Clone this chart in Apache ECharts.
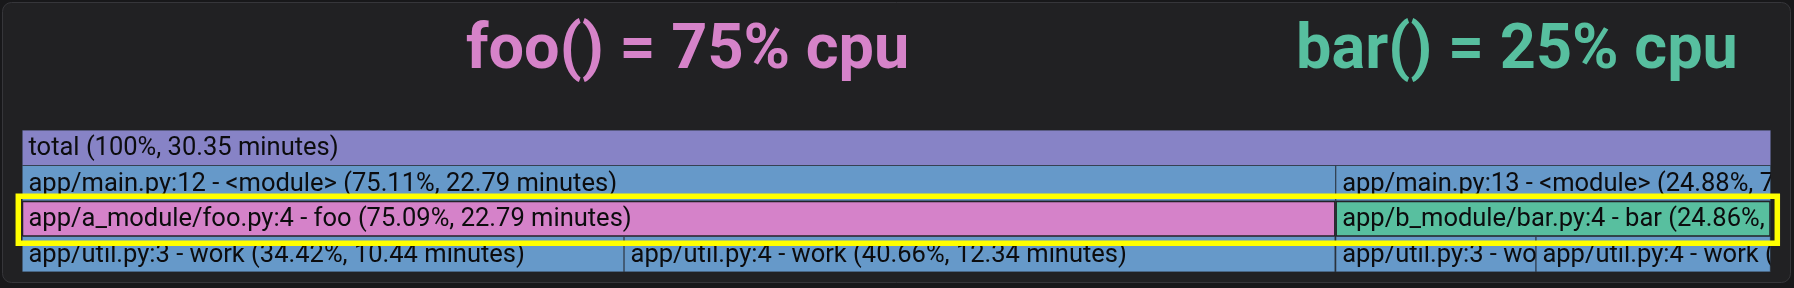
<!DOCTYPE html>
<html>
<head>
<meta charset="utf-8">
<script src="https://cdn.jsdelivr.net/npm/echarts@6/dist/echarts.min.js"></script>
<style>
  html, body { margin: 0; padding: 0; background: #18181a; }
  #chart { width: 1794px; height: 288px; }
</style>
</head>
<body>
<div id="chart"></div>
<script>
// ---- data ----
const frameNames = [
  'total (100%, 30.35 minutes)',
  'app/main.py:12 - <module> (75.11%, 22.79 minutes)',
  'app/main.py:13 - <module> (24.88%, 7.55 minutes)',
  'app/a_module/foo.py:4 - foo (75.09%, 22.79 minutes)',
  'app/b_module/bar.py:4 - bar (24.86%, 7.55 minutes)',
  'app/util.py:3 - work (34.42%, 10.44 minutes)',
  'app/util.py:4 - work (40.66%, 12.34 minutes)',
  'app/util.py:3 - work (11.45%, 3.48 minutes)',
  'app/util.py:4 - work (13.41%, 4.07 minutes)'
];
const frameStarts = [0, 0, 75.11, 0, 75.11, 0, 34.42, 75.11, 86.56];
const frameValues = [100, 75.11, 24.88, 75.09, 24.86, 34.42, 40.66, 11.45, 13.41];
const frameDepths = [0, 1, 1, 2, 2, 3, 3, 3, 3];
const frameKinds = ['total', 'module', 'module', 'foo', 'bar', 'work', 'work', 'work', 'work'];
const titleTexts = ['foo() = 75% cpu', 'bar() = 25% cpu'];
const highlightDepth = 2;

// ---- styles ----
const kindColors = {
  total: '#8783c6',
  module: '#6699c9',
  foo: '#d582c9',
  bar: '#58bf9f',
  work: '#6699c9'
};
const titleColors = ['#d683c9', '#57bf9f'];

const chart = echarts.init(document.getElementById('chart'), null, { renderer: 'canvas' });

const seriesData = frameNames.map((n, i) => [frameStarts[i], frameValues[i], frameDepths[i], i]);

const option = {
  animation: false,
  backgroundColor: '#18181a',
  grid: { left: 22, right: 23, top: 130, bottom: 16 },
  xAxis: { type: 'value', min: 0, max: 100, show: false },
  yAxis: { type: 'value', min: 0, max: 4, inverse: true, show: false },
  graphic: [
    {
      type: 'rect', z: -10,
      shape: { x: 2.5, y: 2.5, width: 1788, height: 280, r: 9 },
      style: { fill: '#212123', stroke: '#36363a', lineWidth: 1 }
    },
    {
      type: 'text', left: 466, top: 21,
      style: { text: titleTexts[0], fill: titleColors[0], font: 'bold 63px Roboto' }
    },
    {
      type: 'text', left: 1296, top: 21,
      style: { text: titleTexts[1], fill: titleColors[1], font: 'bold 63px Roboto' }
    }
  ],
  series: [
    {
      type: 'custom',
      data: seriesData,
      encode: { x: [0, 1], y: 2 },
      renderItem: function (params, api) {
        const start = api.value(0), width = api.value(1), depth = api.value(2), idx = api.value(3);
        const p0 = api.coord([start, depth]);
        const p1 = api.coord([start + width, depth + 1]);
        const x = p0[0], y = p0[1], w = p1[0] - p0[0], h = p1[1] - p0[1];
        const sel = depth === highlightDepth;
        return {
          type: 'group',
          clipPath: { type: 'rect', shape: { x: x, y: y, width: w, height: h } },
          children: [
            {
              type: 'rect',
              shape: { x: x, y: y, width: w, height: h },
              style: { fill: kindColors[frameKinds[idx]], stroke: sel ? '#222228' : '#2c3440', lineWidth: sel ? 2.5 : 1.2 }
            },
            {
              type: 'text',
              x: x + 6.5, y: y + h / 2 + 1,
              style: {
                text: frameNames[idx], fill: '#0c0c0e',
                font: '25.5px Roboto', verticalAlign: 'middle', align: 'left'
              }
            }
          ]
        };
      }
    },
    {
      type: 'custom',
      data: [[highlightDepth]],
      encode: { y: 0 },
      z: 5,
      renderItem: function (params, api) {
        const d = api.value(0);
        const p0 = api.coord([0, d]);
        const p1 = api.coord([100, d + 1]);
        return {
          type: 'rect',
          shape: { x: p0[0] - 3.7, y: p0[1] - 4.8, width: (p1[0] - p0[0]) + 10, height: (p1[1] - p0[1]) + 11.5 },
          style: { fill: 'none', stroke: '#ffff00', lineWidth: 5.5 }
        };
      }
    }
  ]
};
chart.setOption(option);
</script>
</body>
</html>
